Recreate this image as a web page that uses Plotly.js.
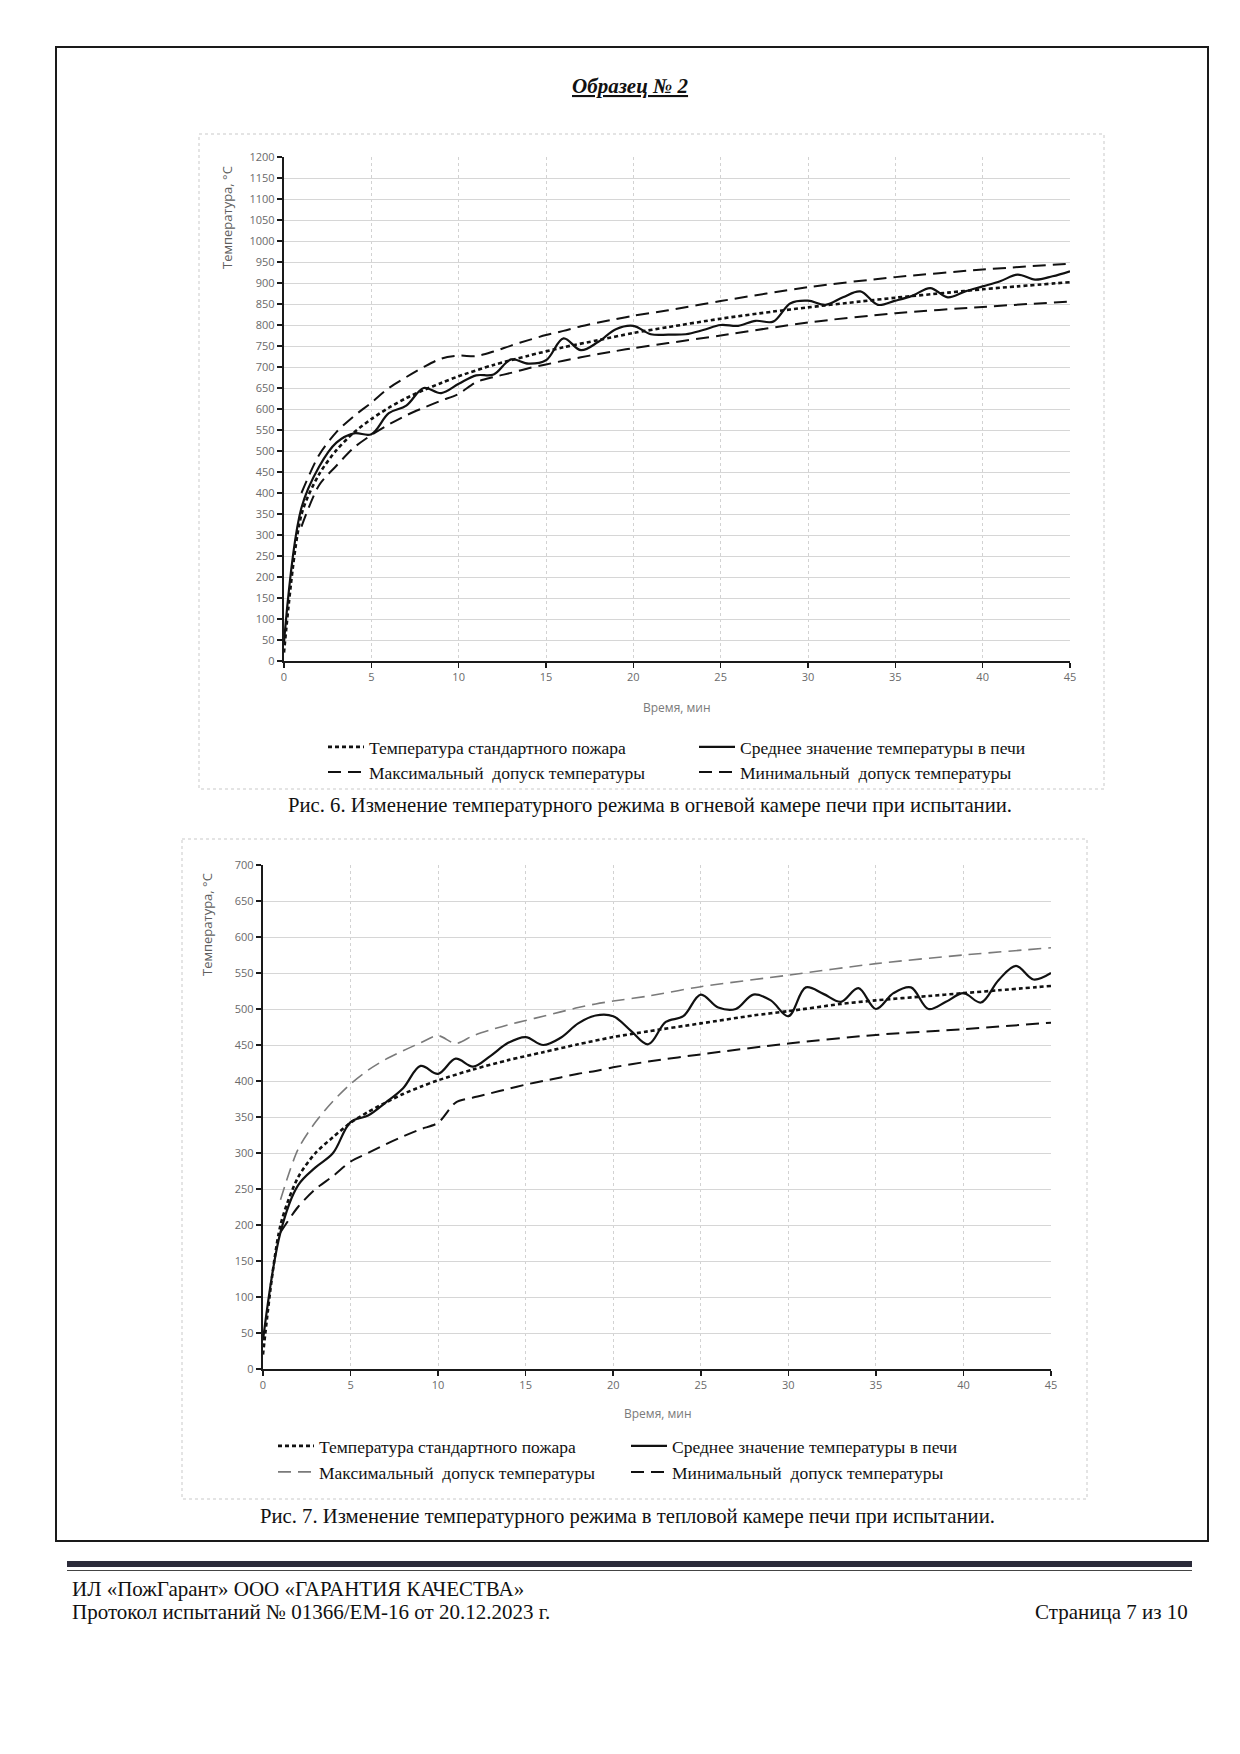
<!DOCTYPE html>
<html>
<head>
<meta charset="utf-8">
<script src="https://cdn.plot.ly/plotly-3.0.1.min.js"></script>
<style>
  html, body { margin: 0; padding: 0; background: #ffffff; }
  #page { width: 1240px; height: 1754px; }
</style>
</head>
<body>
<div id="page"></div>
<script>
// ---------------- DATA ----------------
// Chart 1 – fire chamber (Рис. 6)
const c1TimeMean = [0,1,2,3,4,5,6,7,8,9,10,11,12,13,14,15,16,17,18,19,20,21,22,23,24,25,26,27,28,29,30,31,32,33,34,35,36,37,38,39,40,41,42,43,44,45];
const c1Mean     = [45,365,462,520,542,540,590,608,650,638,660,680,682,718,708,716,768,740,760,790,798,778,777,778,788,800,798,810,808,852,858,848,866,880,848,858,870,888,866,880,892,904,920,908,916,928];
const c1TimeStd  = [0,1,2,3,4,5,6,7,8,9,10,12,14,16,18,20,22,25,28,30,33,35,38,40,42,45];
const c1Std      = [20,349,444,502,544,576,603,626,645,662,678,705,727,747,764,781,795,815,832,842,856,865,877,885,892,902];
const c1TimeTol  = [1,2,3,4,5,6,7,8,9,10,11,12,13,14,15,16,17,18,19,20,22,25,30,35,40,45];
const c1Max      = [400,490,545,583,615,650,676,700,720,727,726,737,751,764,776,786,797,806,814,822,835,857,890,914,932,946];
const c1Min      = [320,418,465,508,538,563,585,603,620,636,664,676,686,697,706,715,723,731,738,745,757,775,806,828,843,856];

// Chart 2 – thermal chamber (Рис. 7)
const c2TimeMean = [0,1,2,3,4,5,6,7,8,9,10,11,12,13,14,15,16,17,18,19,20,21,22,23,24,25,26,27,28,29,30,31,32,33,34,35,36,37,38,39,40,41,42,43,44,45];
const c2Mean     = [40,190,255,280,300,343,352,370,390,421,410,431,420,435,453,461,450,460,480,491,490,470,451,482,490,520,502,500,520,512,490,530,521,510,529,500,522,530,500,510,522,509,540,560,541,550];
const c2TimeStd  = [0,1,2,3,4,5,6,7,8,9,10,12,14,16,18,20,22,25,28,30,33,35,38,40,42,45];
const c2Std      = [20,200,266,300,322,342,357,370,382,392,401,416,429,440,451,461,469,480,491,497,507,512,518,522,526,532];
const c2TimeTol  = [1,2,3,4,5,6,7,8,9,10,11,12,13,14,15,16,17,18,19,20,22,25,30,35,40,45];
const c2Max      = [235,305,343,372,396,415,430,442,453,463,452,463,471,478,484,490,496,502,507,511,518,531,547,563,575,585];
const c2Min      = [190,225,250,268,288,300,312,323,333,342,370,377,383,389,395,400,405,410,414,419,427,437,452,464,472,481];

const xTicks = [0,5,10,15,20,25,30,35,40,45];
const seriesNames = ["Температура стандартного пожара", "Среднее значение температуры в печи",
                     "Максимальный  допуск температуры", "Минимальный  допуск температуры"];

// ---------------- LAYOUT HELPERS ----------------
const W = 1240, H = 1754;
const px = x => x / W;
const py = y => 1 - y / H;

const serif = "Liberation Serif, Times New Roman, serif";
const sans = "Open Sans, Lato, sans-serif";

const stdLine  = {color: "#111", width: 2.6, dash: "4px,3px", shape: "spline", smoothing: 0.8};
const meanLine = {color: "#111", width: 2.2, shape: "spline", smoothing: 1.0};
const tolLine  = {color: "#111", width: 2, dash: "13px,7px", shape: "spline", smoothing: 0.8};
const tolLineGray = {color: "#7a7a7a", width: 1.6, dash: "13px,7px", shape: "spline", smoothing: 0.8};

const traces = [
  {x: c1TimeStd, y: c1Std, name: seriesNames[0], xaxis: "x", yaxis: "y", mode: "lines", line: stdLine, legend: "legend"},
  {x: c1TimeMean, y: c1Mean, name: seriesNames[1], xaxis: "x", yaxis: "y", mode: "lines", line: meanLine, legend: "legend2"},
  {x: c1TimeTol, y: c1Max, name: seriesNames[2], xaxis: "x", yaxis: "y", mode: "lines", line: tolLine, legend: "legend3"},
  {x: c1TimeTol, y: c1Min, name: seriesNames[3], xaxis: "x", yaxis: "y", mode: "lines", line: tolLine, legend: "legend4"},
  {x: c2TimeStd, y: c2Std, name: seriesNames[0], xaxis: "x2", yaxis: "y2", mode: "lines", line: stdLine, legend: "legend5"},
  {x: c2TimeMean, y: c2Mean, name: seriesNames[1], xaxis: "x2", yaxis: "y2", mode: "lines", line: meanLine, legend: "legend6"},
  {x: c2TimeTol, y: c2Max, name: seriesNames[2], xaxis: "x2", yaxis: "y2", mode: "lines", line: tolLineGray, legend: "legend7"},
  {x: c2TimeTol, y: c2Min, name: seriesNames[3], xaxis: "x2", yaxis: "y2", mode: "lines", line: tolLine, legend: "legend8"}
];

function xAxis(d0, d1, anchor) {
  return {
    domain: [px(d0), px(d1)], anchor: anchor, range: [0, 45],
    tickvals: xTicks, ticktext: xTicks.map(String),
    showgrid: true, gridcolor: "#d2d2d2", gridwidth: 1, griddash: "dot",
    showline: true, linecolor: "#1a1a1a", linewidth: 2.2,
    ticks: "outside", ticklen: 5, tickwidth: 1.5, tickcolor: "#1a1a1a",
    zeroline: false, fixedrange: true,
    tickfont: {family: sans, size: 11, color: "#6a6a6a"}
  };
}
function yAxis(d0, d1, anchor, maxV) {
  return {
    domain: [py(d1), py(d0)], anchor: anchor, range: [0, maxV], dtick: 50, tick0: 0,
    showgrid: true, gridcolor: "#d6d6d6", gridwidth: 1,
    showline: true, linecolor: "#1a1a1a", linewidth: 2.2,
    ticks: "outside", ticklen: 5, tickwidth: 1.5, tickcolor: "#1a1a1a",
    zeroline: false, fixedrange: true,
    tickfont: {family: sans, size: 11, color: "#6a6a6a"}
  };
}

function legendAt(x, y) {
  return {x: px(x), y: py(y), xanchor: "left", yanchor: "middle", xref: "paper", yref: "paper",
          bgcolor: "rgba(0,0,0,0)", borderwidth: 0, itemwidth: 36,
          font: {family: serif, size: 17.5, color: "#111"}, tracegroupgap: 0};
}

function ann(text, x, y, opts) {
  return Object.assign({text: text, x: px(x), y: py(y), xref: "paper", yref: "paper",
    showarrow: false, xanchor: "center", yanchor: "middle",
    font: {family: serif, size: 18, color: "#111"}}, opts || {});
}

const annotations = [
  ann("Образец № 2", 630, 86, {font: {family: serif, size: 21, color: "#111", weight: "bold", style: "italic", lineposition: "under"}}),
  ann("Температура, °С", 227, 218, {textangle: -90, font: {family: sans, size: 13, color: "#5e5e5e"}}),
  ann("Время, мин", 677, 707, {font: {family: sans, size: 12, color: "#7a7a7a"}}),
  ann("Рис. 6. Изменение температурного режима в огневой камере печи при испытании.", 650, 805, {font: {family: serif, size: 20.7, color: "#111"}}),
  ann("Температура, °С", 207, 925, {textangle: -90, font: {family: sans, size: 13, color: "#5e5e5e"}}),
  ann("Время, мин", 658, 1413, {font: {family: sans, size: 12, color: "#7a7a7a"}}),
  ann("Рис. 7. Изменение температурного режима в тепловой камере печи при испытании.", 627, 1516, {font: {family: serif, size: 20.7, color: "#111"}}),
  ann("ИЛ «ПожГарант» ООО «ГАРАНТИЯ КАЧЕСТВА»", 70, 1589, {xanchor: "left", font: {family: serif, size: 21, color: "#111"}}),
  ann("Протокол испытаний № 01366/ЕМ-16 от 20.12.2023 г.", 70, 1612, {xanchor: "left", font: {family: serif, size: 21, color: "#111"}}),
  ann("Страница 7 из 10", 1190, 1612, {xanchor: "right", font: {family: serif, size: 21, color: "#111"}})
];

function rectPx(x0, y0, x1, y1, line, fill) {
  return {type: "rect", xref: "paper", yref: "paper", x0: px(x0), x1: px(x1), y0: py(y0), y1: py(y1),
          line: line, fillcolor: fill || "rgba(0,0,0,0)", layer: "below"};
}

const shapes = [
  rectPx(56, 47, 1208, 1541, {color: "#1a1a1a", width: 2}),
  rectPx(199, 134, 1104, 789, {color: "#c9c9c9", width: 1, dash: "dot"}),
  rectPx(182, 839, 1087, 1499, {color: "#c9c9c9", width: 1, dash: "dot"}),
  rectPx(67, 1561, 1192, 1567, {color: "#2b2b3a", width: 0}, "#2b2b3a"),
  {type: "line", xref: "paper", yref: "paper", x0: px(67), x1: px(1192), y0: py(1570.5), y1: py(1570.5), line: {color: "#444", width: 1}}
];

const layout = {
  width: W, height: H,
  margin: {l: 0, r: 0, t: 0, b: 0},
  paper_bgcolor: "#ffffff", plot_bgcolor: "rgba(0,0,0,0)",
  showlegend: true,
  xaxis: xAxis(284, 1070, "y"),
  yaxis: yAxis(157, 661, "x", 1200),
  xaxis2: xAxis(263, 1051, "y2"),
  yaxis2: yAxis(865, 1369, "x2", 700),
  legend:  legendAt(323, 747),
  legend2: legendAt(694, 747),
  legend3: legendAt(323, 772),
  legend4: legendAt(694, 772),
  legend5: legendAt(273, 1446),
  legend6: legendAt(626, 1446),
  legend7: legendAt(273, 1472),
  legend8: legendAt(626, 1472),
  annotations: annotations,
  shapes: shapes
};

Plotly.newPlot("page", traces, layout, {staticPlot: true, displayModeBar: false});
</script>
</body>
</html>
